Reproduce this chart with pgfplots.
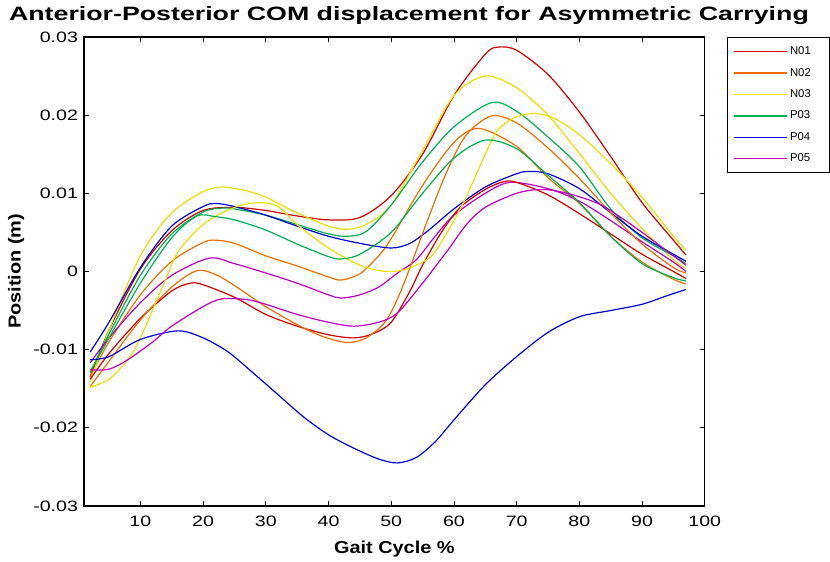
\documentclass[border=0pt]{standalone}
\usepackage{pgfplots}
\pgfplotsset{compat=1.18}
\usepackage{fontspec}
\setmainfont{Liberation Sans}
\newfontfamily\titlefont[FakeStretch=1.385]{Liberation Sans}
\newfontfamily\labelfont[FakeStretch=1.15]{Liberation Sans}
\newfontfamily\tickfont[FakeStretch=1.3]{Liberation Sans}

\definecolor{cN1}{RGB}{210,0,0}
\definecolor{cN2}{RGB}{240,110,0}
\definecolor{cN3}{RGB}{235,225,0}
\definecolor{cP3}{RGB}{0,175,80}
\definecolor{cP4}{RGB}{0,0,210}
\definecolor{cP5}{RGB}{190,0,190}

\begin{document}
\begin{tikzpicture}
\begin{axis}[
    scale only axis,
    width=466pt, height=352pt,
    xmin=1, xmax=100,
    ymin=-0.03, ymax=0.03,
    scaled y ticks=false,
    xtick={10,20,...,100},
    ytick={-0.03,-0.02,-0.01,0,0.01,0.02,0.03},
    yticklabels={-0.03,-0.02,-0.01,0,0.01,0.02,0.03},
    tick align=inside,
    major tick length=3.8pt,
    tick style={black, line width=0.6pt},
    axis line style={line width=1pt},
    ticklabel style={font=\tickfont\fontsize{11.3}{13}\selectfont},
    yticklabel style={xshift=-1pt},
    xticklabel style={yshift=-4pt},
    /pgf/number format/assume math mode=true,
    title={\bfseries Anterior-Posterior COM displacement for Asymmetric Carrying},
    title style={font=\titlefont\fontsize{14.5}{16}\selectfont, xshift=11pt, yshift=0pt},
    xlabel={\bfseries Gait Cycle \%},
    ylabel={\bfseries Position (m)},
    label style={font=\labelfont\fontsize{13}{14}\selectfont},
    xlabel style={yshift=-4pt},
    ylabel style={yshift=0pt},
    legend style={at={(1.036,1)}, anchor=north west,
        font=\fontsize{8.5}{10}\selectfont, draw=black, line width=0.8pt,
        row sep=4.6pt, inner xsep=4pt, inner ysep=5pt},
    legend cell align=left,
    legend image code/.code={\draw[#1, line width=1pt] (0cm,0cm) -- (1.4cm,0cm);},
    every axis plot/.append style={smooth, line width=0.9pt},
]
% N01
\addplot[cN1] coordinates {
(2,-0.0135) (5,-0.0075) (10,0.0003) (15,0.0052) (20,0.0078) (25,0.0082) (30,0.0078)
(35,0.0071) (40,0.0066) (45,0.0069) (50,0.0097) (55,0.0150) (60,0.0225) (65,0.0278)
(67,0.0287) (70,0.0283) (75,0.0252) (80,0.0204) (85,0.0147) (90,0.0088) (95,0.0040) (97,0.0021)};
\addlegendentry{N01\hspace*{8pt}}
% N02
\addplot[cN2] coordinates {
(2,-0.0135) (5,-0.0090) (10,-0.0030) (15,0.0013) (20,0.0037) (22,0.0040) (25,0.0036)
(30,0.0020) (35,0.0007) (40,-0.0007) (42,-0.0011) (45,-0.0003) (48,0.0020) (50,0.0042)
(55,0.0110) (60,0.0165) (64,0.0183) (70,0.0160) (75,0.0120) (80,0.0087) (85,0.0045)
(90,0.0012) (95,-0.0010) (97,-0.0016)};
\addlegendentry{N02\hspace*{8pt}}
% N03
\addplot[cN3] coordinates {
(2,-0.0141) (5,-0.0075) (10,0.0020) (15,0.0075) (20,0.0102) (23,0.0108) (27,0.0103)
(30,0.0095) (35,0.0075) (40,0.0058) (43,0.0054) (46,0.0060) (50,0.0085) (55,0.0155)
(60,0.0225) (65,0.0250) (70,0.0235) (75,0.0200) (80,0.0151) (85,0.0100) (90,0.0055)
(95,0.0015) (97,0.0004)};
\addlegendentry{N03\hspace*{8pt}}
% P03
\addplot[cP3] coordinates {
(2,-0.0130) (5,-0.0080) (10,-0.0005) (15,0.0048) (20,0.0076) (23,0.0081) (25,0.0080)
(30,0.0072) (35,0.0060) (40,0.0048) (43,0.0045) (46,0.0051) (50,0.0085) (55,0.0140)
(60,0.0185) (66,0.0216) (70,0.0205) (75,0.0172) (80,0.0134) (85,0.0080) (90,0.0043)
(95,0.0020) (97,0.0010)};
\addlegendentry{P03\hspace*{8pt}}
% P04
\addplot[cP4] coordinates {
(2,-0.0103) (5,-0.0065) (10,0.0005) (15,0.0058) (20,0.0083) (22,0.0087) (25,0.0083)
(30,0.0072) (35,0.0058) (40,0.0045) (45,0.0036) (50,0.0030) (53,0.0036) (56,0.0053)
(60,0.0080) (65,0.0108) (70,0.0125) (72,0.0128) (75,0.0125) (80,0.0106) (85,0.0075)
(90,0.0045) (95,0.0022) (97,0.0013)};
\addlegendentry{P04\hspace*{8pt}}
% P05
\addplot[cP5] coordinates {
(2,-0.0117) (5,-0.0085) (10,-0.0040) (15,-0.0005) (21,0.0017) (25,0.0010) (30,-0.0002)
(35,-0.0015) (40,-0.0030) (42,-0.0034) (45,-0.0030) (48,-0.0020) (51,-0.0002) (54,0.0015)
(57,0.0045) (60,0.0072) (65,0.0100) (69,0.0114) (75,0.0106) (80,0.0090) (85,0.0065)
(90,0.0038) (95,0.0012) (97,0.0000)};
\addlegendentry{P05\hspace*{8pt}}
% second trial of each subject
\addplot[cN1, forget plot] coordinates {
(2,-0.0138) (5,-0.0105) (10,-0.0060) (15,-0.0025) (18,-0.0015) (20,-0.0017) (25,-0.0033)
(30,-0.0055) (35,-0.0070) (40,-0.0081) (44,-0.0085) (47,-0.0080) (50,-0.0065) (53,-0.0025)
(55,0.0008) (58,0.0050) (61,0.0082) (65,0.0105) (68,0.0115) (70,0.0114) (75,0.0098)
(80,0.0074) (85,0.0048) (90,0.0022) (95,0.0000) (97,-0.0009)};
\addplot[cN2, forget plot] coordinates {
(2,-0.0147) (5,-0.0115) (10,-0.0062) (15,-0.0020) (19,0.0001) (22,-0.0004) (25,-0.0018)
(30,-0.0045) (35,-0.0068) (39,-0.0083) (43,-0.0091) (46,-0.0085) (49,-0.0065) (51,-0.0035)
(53,0.0005) (56,0.0070) (59,0.0130) (62,0.0175) (66,0.0199) (70,0.0190) (75,0.0158)
(80,0.0119) (85,0.0075) (90,0.0035) (95,0.0005) (97,-0.0002)};
\addplot[cN3, forget plot] coordinates {
(2,-0.0148) (5,-0.0138) (8,-0.0113) (10,-0.0085) (14,-0.0011) (16,0.0025) (20,0.0060)
(25,0.0082) (29,0.0088) (32,0.0083) (35,0.0060) (40,0.0030) (45,0.0008) (49,0.0000)
(52,0.0002) (55,0.0012) (57,0.0025) (60,0.0065) (62,0.0096) (65,0.0150) (67,0.0181)
(70,0.0198) (73,0.0202) (76,0.0196) (80,0.0175) (85,0.0138) (90,0.0095) (95,0.0045) (97,0.0027)};
\addplot[cP3, forget plot] coordinates {
(2,-0.0128) (5,-0.0085) (10,-0.0015) (15,0.0043) (19,0.0071) (22,0.0070) (25,0.0066)
(30,0.0053) (35,0.0035) (40,0.0019) (42,0.0016) (45,0.0022) (50,0.0050) (55,0.0100)
(60,0.0145) (65,0.0168) (70,0.0157) (75,0.0123) (80,0.0088) (85,0.0045) (90,0.0010)
(95,-0.0008) (97,-0.0012)};
\addplot[cP4, forget plot] coordinates {
(2,-0.0113) (5,-0.0109) (10,-0.0087) (16,-0.0076) (20,-0.0085) (24,-0.0103) (28,-0.0130)
(32,-0.0158) (36,-0.0186) (40,-0.0209) (44,-0.0226) (48,-0.0240) (51,-0.0245) (54,-0.0238)
(57,-0.0218) (60,-0.0190) (65,-0.0145) (70,-0.0109) (75,-0.0078) (80,-0.0058) (85,-0.0050)
(90,-0.0042) (94,-0.0031) (97,-0.0023)};
\addplot[cP5, forget plot] coordinates {
(2,-0.0126) (5,-0.0125) (8,-0.0113) (12,-0.0090) (15,-0.0070) (20,-0.0045) (23,-0.0035)
(27,-0.0036) (30,-0.0042) (35,-0.0055) (40,-0.0065) (44,-0.0070) (48,-0.0065) (51,-0.0053)
(55,-0.0015) (59,0.0027) (62,0.0060) (65,0.0082) (70,0.0100) (74,0.0105) (78,0.0100)
(83,0.0087) (87,0.0067) (90,0.0050) (95,0.0020) (97,0.0008)};
\end{axis}
% figure canvas, as in the reference
\path ([xshift=-63pt,yshift=-40.5pt]current axis.south west)
    rectangle ([xshift=93.75pt,yshift=27.75pt]current axis.north east);
\end{tikzpicture}
\end{document}
